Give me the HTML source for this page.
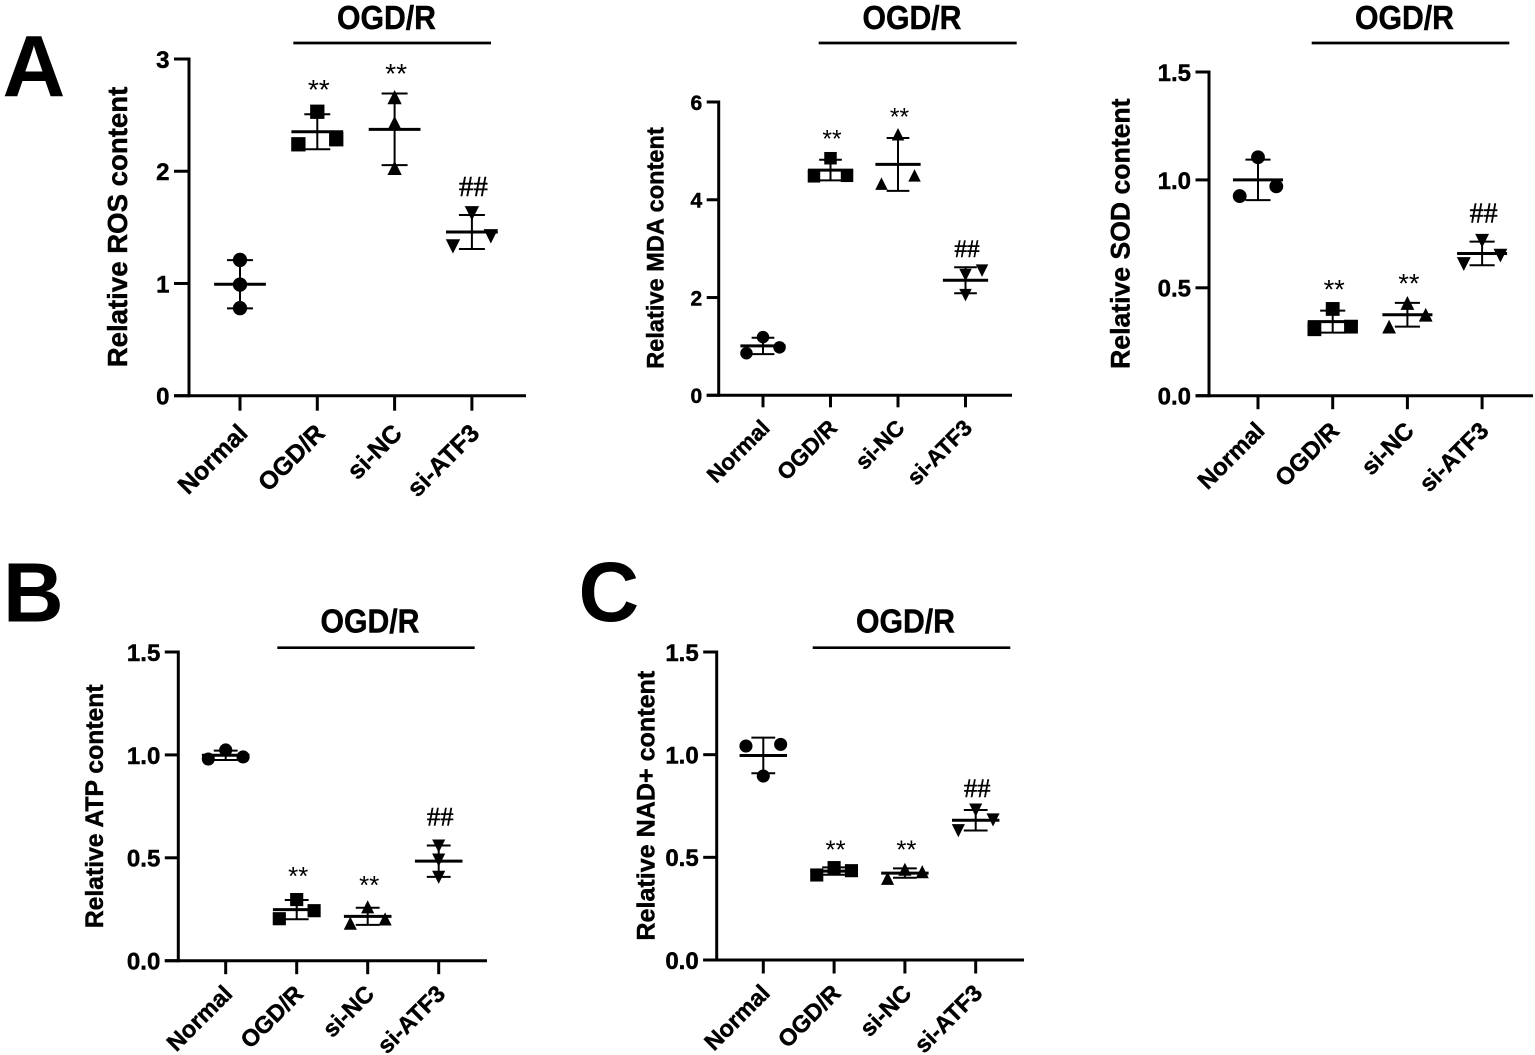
<!DOCTYPE html>
<html lang="en">
<head>
<meta charset="utf-8">
<title>Relative content panels</title>
<style>
  html, body { margin: 0; padding: 0; background: #fff; }
  svg { display: block; }
  text { font-family: "Liberation Sans", sans-serif; fill: #000; }
  .letter { font-weight: 700; font-size: 87px; }
  .letter-low { font-weight: 700; font-size: 84px; }
  .heavy { stroke: #000; stroke-width: 0.45px; }
</style>
</head>
<body>
<svg id="figure" xmlns="http://www.w3.org/2000/svg" width="1535" height="1055" viewBox="0 0 1535 1055">
  <rect width="1535" height="1055" fill="#fff"/>
  <text class="letter" x="2.5" y="96.5">A</text>
  <text class="letter-low" x="3" y="621.5">B</text>
  <text class="letter-low" x="578.5" y="621">C</text>
</svg>
<script>
const categories = ['Normal', 'OGD/R', 'si-NC', 'si-ATF3'];
const sigLabels = ['', '**', '**', '##'];

const rosTicks = ['0', '1', '2', '3'];
const mdaTicks = ['0', '2', '4', '6'];
const fractionTicks = ['0.0', '0.5', '1.0', '1.5'];

const rosValues = [[1.21, 0.99, 0.78], [2.53, 2.24, 2.285], [2.66, 2.43, 2.03], [1.625, 1.42, 1.33]];
const mdaValues = [[1.19, 0.86, 0.98], [4.85, 4.48, 4.49], [5.34, 4.33, 4.5], [2.55, 2.46, 2.05]];
const sodValues = [[1.105, 0.925, 0.97], [0.402, 0.308, 0.32], [0.43, 0.32, 0.375], [0.718, 0.61, 0.649]];
const atpValues = [[1.024, 0.98, 0.99], [0.297, 0.204, 0.243], [0.262, 0.182, 0.203], [0.557, 0.489, 0.405]];
const nadValues = [[1.05, 1.042, 0.896], [0.45, 0.414, 0.435], [0.442, 0.398, 0.43], [0.73, 0.63, 0.682]];

const rosSigLevels = [null, 2.76, 2.90, 1.863];
const mdaSigLevels = [null, 5.30, 5.75, 3.0];
const sodSigLevels = [null, 0.508, 0.536, 0.845];
const atpSigLevels = [null, 0.425, 0.381, 0.70];
const nadSigLevels = [null, 0.552, 0.552, 0.836];

const SVG_NS = 'http://www.w3.org/2000/svg';
const figure = document.getElementById('figure');

function mk(parent, tag, attrs, content) {
  const el = document.createElementNS(SVG_NS, tag);
  for (const k in attrs) el.setAttribute(k, attrs[k]);
  if (content !== undefined) el.textContent = content;
  parent.appendChild(el);
  return el;
}

function swarmSlots(vals, pxPerUnit) {
  const order = vals.map((_, i) => i).sort((a, b) => vals[a] - vals[b]);
  const slots = vals.map(() => 0);
  for (let k = 0; k + 1 < order.length; k++) {
    if ((vals[order[k + 1]] - vals[order[k]]) * pxPerUnit < 12.5) {
      slots[order[k]] = -1;
      slots[order[k + 1]] = 1;
      break;
    }
  }
  return slots;
}

function mean(vals) {
  return vals.reduce((a, b) => a + b, 0) / vals.length;
}

function sd(vals) {
  const m = mean(vals);
  return Math.sqrt(vals.reduce((a, b) => a + (b - m) * (b - m), 0) / (vals.length - 1));
}

function drawSymbol(parent, kind, cx, cy, s) {
  const h = s / 2;
  if (kind === 0) return mk(parent, 'circle', { cx: cx, cy: cy, r: h, fill: '#000' });
  if (kind === 1) return mk(parent, 'rect', { x: cx - h, y: cy - h, width: s, height: s, fill: '#000' });
  if (kind === 2) return mk(parent, 'polygon', { points: (cx - h) + ',' + (cy + h) + ' ' + (cx + h) + ',' + (cy + h) + ' ' + cx + ',' + (cy - h), fill: '#000' });
  return mk(parent, 'polygon', { points: (cx - h) + ',' + (cy - h) + ' ' + (cx + h) + ',' + (cy - h) + ' ' + cx + ',' + (cy + h), fill: '#000' });
}

function drawPanel(p) {
  const g = mk(figure, 'g', {});
  
  

  const yMax = Number(p.ticks[p.ticks.length - 1]);
  const pxPerUnit = (p.y0 - p.yTop) / yMax;
  const yPos = v => p.y0 - v * pxPerUnit;
  const xPos = i => p.cat0 + i * p.step;
  const axisWidth = 3;

  const yAxis = mk(g, 'line', { x1: p.axisX, x2: p.axisX, y1: yPos(yMax) - axisWidth / 2, y2: p.y0 + axisWidth / 2, stroke: '#000', 'stroke-width': axisWidth });
  
  

  const xAxis = mk(g, 'line', { x1: p.axisX - p.tick, x2: p.axisEnd, y1: p.y0, y2: p.y0, stroke: '#000', 'stroke-width': axisWidth });
  
  

  p.ticks.forEach(label => {
    const v = Number(label);
    const t = mk(g, 'line', { x1: p.axisX - p.tick, x2: p.axisX, y1: yPos(v), y2: yPos(v), stroke: '#000', 'stroke-width': axisWidth });
    
    
    const tl = mk(g, 'text', { class: 'heavy', x: p.axisX - p.tick - 4.5, y: yPos(v) + p.tickFont * 0.37, 'text-anchor': 'end', 'font-weight': 700, 'font-size': p.tickFont }, label);
    
    
  });

  const title = mk(g, 'text', {
    class: 'heavy', x: 0, y: 0, 'text-anchor': 'middle', 'font-weight': 700, 'font-size': p.titleFont,
    transform: 'translate(' + p.titleX + ',' + p.titleY + ') rotate(-90)'
  }, p.title);
  
  

  categories.forEach((name, i) => {
    const cx = xPos(i);
    const t = mk(g, 'line', { x1: cx, x2: cx, y1: p.y0, y2: p.y0 + p.tick, stroke: '#000', 'stroke-width': axisWidth });
    
    
    const ax = cx + 8 + p.catDx;
    const ay = p.y0 + p.tick + 23 + p.catDy;
    const tl = mk(g, 'text', { class: 'heavy', x: ax, y: ay, 'text-anchor': 'end', 'font-weight': 700, 'font-size': p.catFont, transform: 'rotate(-45 ' + ax + ' ' + ay + ')' }, name);
    
    

    const vals = p.values[i];
    const group = mk(g, 'g', {});
    
    

    const m = mean(vals);
    const s = sd(vals);
    const meanHalf = p.step * 0.335;
    const capHalf = p.step * 0.168;
    const stem = mk(group, 'line', { x1: cx, x2: cx, y1: yPos(m + s), y2: yPos(m - s), stroke: '#000', 'stroke-width': 2 });
    
    
    const capTop = mk(group, 'line', { x1: cx - capHalf, x2: cx + capHalf, y1: yPos(m + s), y2: yPos(m + s), stroke: '#000', 'stroke-width': 2 });
    
    
    const capBottom = mk(group, 'line', { x1: cx - capHalf, x2: cx + capHalf, y1: yPos(m - s), y2: yPos(m - s), stroke: '#000', 'stroke-width': 2 });
    
    
    const meanLine = mk(group, 'line', { x1: cx - meanHalf, x2: cx + meanHalf, y1: yPos(m), y2: yPos(m), stroke: '#000', 'stroke-width': 3 });
    
    

    const slots = (p.slotOverride && p.slotOverride.index === i) ? p.slotOverride.slots : swarmSlots(vals, pxPerUnit);
    vals.forEach((v, j) => {
      const mark = drawSymbol(group, i, cx + slots[j] * p.step * 0.245, yPos(v), p.step * 0.185);
      
      
    });

    if (sigLabels[i] && p.sig[i] !== null) {
      const isHash = sigLabels[i] === '##';
      const fs = isHash ? p.step * 0.375 : p.step * 0.365;
      const base = yPos(p.sig[i]) + (isHash ? 0.33 : 0.46) * fs;
      const sig = mk(g, 'text', {
        class: isHash ? 'heavy' : '', x: cx + 1.5, y: base, 'text-anchor': 'middle', 'font-size': fs,
        style: isHash ? 'font-family:"Liberation Serif",serif' : 'font-family:"Liberation Sans",sans-serif'
      }, sigLabels[i]);
      
      
    }
  });

  const bar = mk(g, 'line', { x1: p.barX1, x2: p.barX2, y1: p.barY, y2: p.barY, stroke: '#000', 'stroke-width': 2.7 });
  
  
  const head = mk(g, 'text', {
    class: 'heavy', x: p.headX, y: p.headY, 'text-anchor': 'middle', 'font-weight': 700, 'font-size': 33,
    textLength: 99, lengthAdjust: 'spacingAndGlyphs'
  }, 'OGD/R');
  
  
}

drawPanel({
  id: 'ros', title: 'Relative ROS content', ticks: rosTicks, values: rosValues, sig: rosSigLevels,
  axisX: 189, axisEnd: 526, y0: 395.7, yTop: 59, tick: 15, cat0: 240, step: 77.3,
  tickFont: 24, titleFont: 27.6, titleX: 127, titleY: 227, catFont: 25, catDx: 1, catDy: 1,
  barX1: 293.3, barX2: 491, barY: 43, headX: 386.5, headY: 29
});
drawPanel({
  id: 'mda', title: 'Relative MDA content', ticks: mdaTicks, values: mdaValues, sig: mdaSigLevels,
  slotOverride: { index: 3, slots: [1, 0, 0] },
  axisX: 718.7, axisEnd: 1012, y0: 395.3, yTop: 102, tick: 12, cat0: 763, step: 67.5,
  tickFont: 21, titleFont: 23.6, titleX: 663.5, titleY: 248, catFont: 22.5, catDx: 0, catDy: -1,
  barX1: 818.7, barX2: 1016.7, barY: 43, headX: 912, headY: 29
});
drawPanel({
  id: 'sod', title: 'Relative SOD content', ticks: fractionTicks, values: sodValues, sig: sodSigLevels,
  axisX: 1209, axisEnd: 1533, y0: 395.7, yTop: 72, tick: 13.5, cat0: 1258, step: 74.7,
  tickFont: 24, titleFont: 26.6, titleX: 1129.5, titleY: 233.7, catFont: 24, catDx: 0, catDy: 0,
  barX1: 1311.7, barX2: 1509.3, barY: 43, headX: 1404.5, headY: 29
});
drawPanel({
  id: 'atp', title: 'Relative ATP content', ticks: fractionTicks, values: atpValues, sig: atpSigLevels,
  axisX: 178.3, axisEnd: 487, y0: 960.7, yTop: 652, tick: 13.5, cat0: 225.7, step: 71,
  tickFont: 24, titleFont: 24.7, titleX: 103, titleY: 806.3, catFont: 23.5, catDx: 0, catDy: -2,
  barX1: 277.3, barX2: 474.7, barY: 647.7, headX: 370, headY: 632.5
});
drawPanel({
  id: 'nad', title: 'Relative NAD+ content', ticks: fractionTicks, values: nadValues, sig: nadSigLevels,
  axisX: 716.7, axisEnd: 1024, y0: 960, yTop: 652, tick: 13.5, cat0: 763.3, step: 70.8,
  tickFont: 24, titleFont: 25.1, titleX: 654.5, titleY: 805.7, catFont: 23.5, catDx: 0, catDy: -2,
  barX1: 812.7, barX2: 1010.3, barY: 647.7, headX: 905.5, headY: 632.5
});
</script>
</body>
</html>
